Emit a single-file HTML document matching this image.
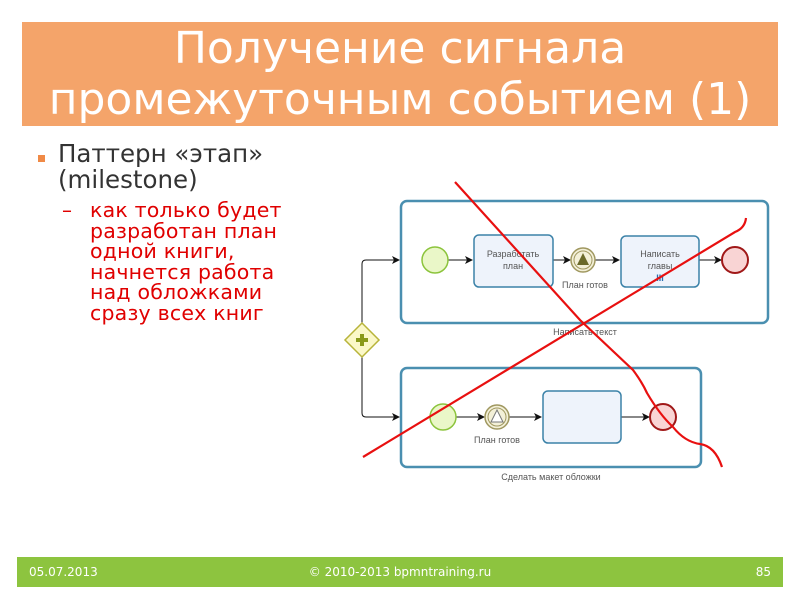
<!DOCTYPE html>
<html><head><meta charset="utf-8"><style>
body{margin:0;width:800px;height:600px;background:#fff;position:relative;overflow:hidden;font-family:"Liberation Sans","DejaVu Sans",sans-serif}
.title{position:absolute;left:22px;top:22px;width:756px;height:104px;background:#f4a46a;color:#fff;text-align:center;font-size:44px;line-height:51px;font-family:"DejaVu Sans",sans-serif;white-space:nowrap}
.t{position:absolute;font-family:"DejaVu Sans",sans-serif;white-space:nowrap}
.foot{position:absolute;left:17px;top:557px;width:766px;height:30px;background:#8dc43f;color:#fff;font-size:12px;line-height:30px;font-family:"DejaVu Sans",sans-serif}
</style></head><body>
<div class="title"><div style="padding-top:1px">Получение сигнала</div><div>промежуточным событием (1)</div></div>
<div style="position:absolute;left:38px;top:155px;width:7px;height:7px;background:#f08a46"></div>
<div class="t" style="left:58px;top:141px;font-size:24.5px;line-height:26px;color:#333">Паттерн «этап»<br>(milestone)</div>
<div class="t" style="left:62px;top:200px;font-size:20px;line-height:20.5px;color:#e00000">–</div>
<div class="t" style="left:90px;top:200px;font-size:20.5px;line-height:20.5px;letter-spacing:0.2px;color:#e00000">как только будет<br>разработан план<br>одной книги,<br>начнется работа<br>над обложками<br>сразу всех книг</div>
<svg style="position:absolute;left:0;top:0" width="800" height="600" font-family="Liberation Sans,sans-serif">
<defs><marker id="a" markerWidth="8" markerHeight="8" refX="7" refY="4" orient="auto" markerUnits="userSpaceOnUse"><path d="M0,0 L8,4 L0,8 L2,4z" fill="#111"/></marker></defs>
<rect x="401" y="201" width="367" height="122" rx="6" fill="#fff" stroke="#4a8fb0" stroke-width="2.5"/>
<rect x="401" y="368" width="300" height="99" rx="6" fill="#fff" stroke="#4a8fb0" stroke-width="2.5"/>
<g stroke="#111" stroke-width="1" fill="none">
<path d="M362,323 V264 Q362,260 366,260 H399" marker-end="url(#a)"/>
<path d="M362,357 V413 Q362,417 366,417 H399" marker-end="url(#a)"/>
<path d="M448,260 H472" marker-end="url(#a)"/>
<path d="M553,260 H570" marker-end="url(#a)"/>
<path d="M595,260 H619" marker-end="url(#a)"/>
<path d="M699,260 H721" marker-end="url(#a)"/>
<path d="M456,417 H484" marker-end="url(#a)"/>
<path d="M509,417 H541" marker-end="url(#a)"/>
<path d="M621,417 H649" marker-end="url(#a)"/>
</g>
<polygon points="362,323 379,340 362,357 345,340" fill="#fbf8c8" stroke="#b8b43a" stroke-width="1.5"/>
<path d="M356,340 H368 M362,334 V346" stroke="#8a9a1a" stroke-width="4"/>
<circle cx="435" cy="260" r="13" fill="#eaf7c8" stroke="#8cc43c" stroke-width="1.5"/>
<circle cx="443" cy="417" r="13" fill="#eaf7c8" stroke="#8cc43c" stroke-width="1.5"/>
<rect x="474" y="235" width="79" height="52" rx="5" fill="#eef3fb" stroke="#3b82a8" stroke-width="1.5"/>
<rect x="621" y="236" width="78" height="51" rx="5" fill="#eef3fb" stroke="#3b82a8" stroke-width="1.5"/>
<rect x="543" y="391" width="78" height="52" rx="5" fill="#eef3fb" stroke="#3b82a8" stroke-width="1.5"/>
<circle cx="583" cy="260" r="12" fill="#f3f0d8" stroke="#a09860" stroke-width="1.5"/><circle cx="583" cy="260" r="9" fill="none" stroke="#a09860"/>
<polygon points="583,253 589,265 577,265" fill="#6b6a2a"/>
<circle cx="497" cy="417" r="12" fill="#f3f0d8" stroke="#a09860" stroke-width="1.5"/><circle cx="497" cy="417" r="9" fill="none" stroke="#a09860"/>
<polygon points="497,410 503,422 491,422" fill="#fff" stroke="#777"/>
<circle cx="735" cy="260" r="13" fill="#f9d4d4" stroke="#a01818" stroke-width="2"/>
<circle cx="663" cy="417" r="13" fill="#f9d4d4" stroke="#a01818" stroke-width="2"/>
<g font-size="9" fill="#555" text-anchor="middle">
<text x="513" y="257">Разработать</text><text x="513" y="269">план</text>
<text x="660" y="257">Написать</text><text x="660" y="269">главы</text>
<text x="660" y="281" fill="#2a6fb0" font-weight="bold">III</text>
<text x="585" y="288">План готов</text>
<text x="585" y="335">Написать текст</text>
<text x="497" y="443">План готов</text>
<text x="551" y="480">Сделать макет обложки</text>
</g>
<g stroke="#e81010" stroke-width="2.2" fill="none">
<path d="M455,182 L580,320 L633,370 Q642,382 647,393 Q660,415 673,427 Q685,442 700,444 Q715,446 722,467"/>
<path d="M363,457 L735,232 Q745,228 746,218"/>
</g>
</svg>
<div class="foot"><span style="position:absolute;left:12px">05.07.2013</span><span style="position:absolute;left:0;width:100%;text-align:center">© 2010-2013 bpmntraining.ru</span><span style="position:absolute;right:12px">85</span></div>
</body></html>
